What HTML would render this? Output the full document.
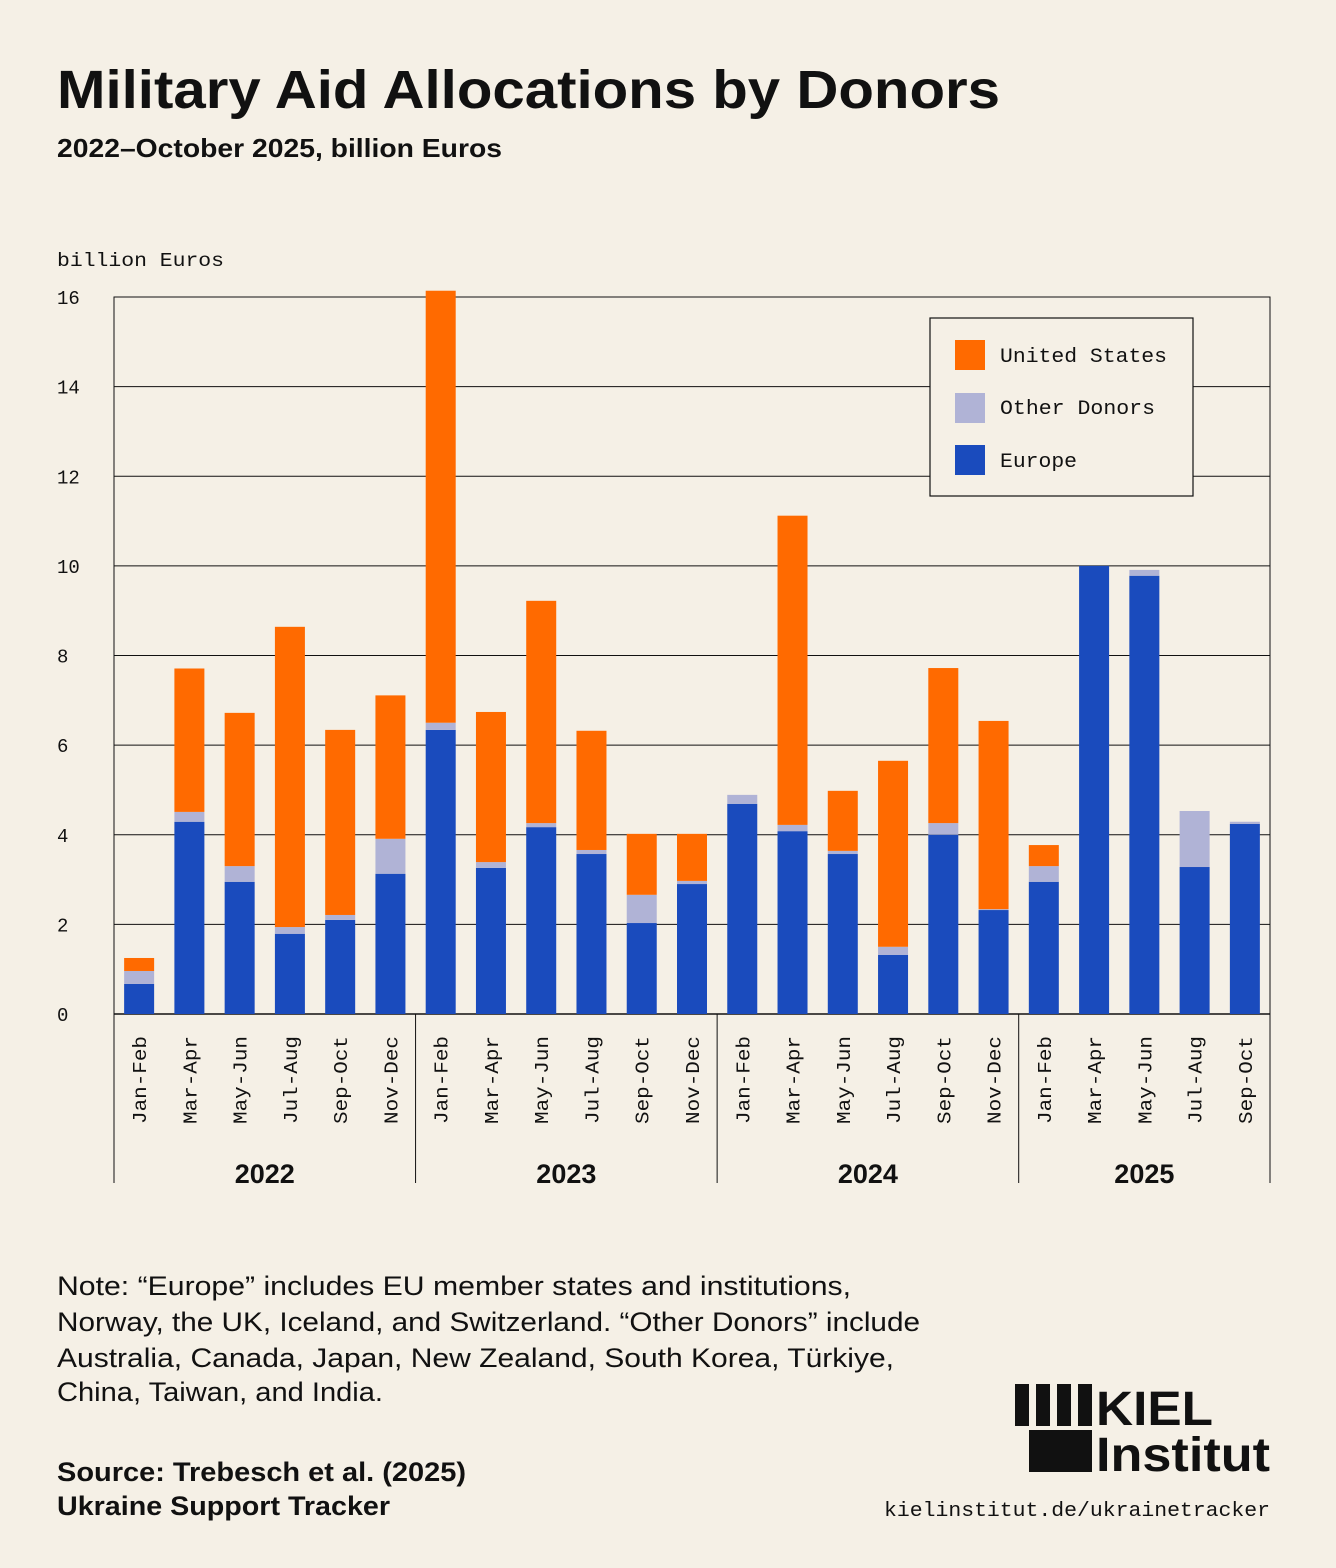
<!DOCTYPE html>
<html><head><meta charset="utf-8">
<style>
body{margin:0;background:#f5f0e6;}
#wrap{position:relative;width:1336px;height:1568px;background:#f5f0e6;overflow:hidden;font-family:"Liberation Sans",sans-serif;color:#111;}
</style></head>
<body>
<div id="wrap">
<svg id="svg" width="1336" height="1568" xmlns="http://www.w3.org/2000/svg">
<text x="57" y="108" font-size="54" font-weight="bold" font-family="Liberation Sans, sans-serif" textLength="943" lengthAdjust="spacingAndGlyphs" fill="#111">Military Aid Allocations by Donors</text>
<text x="57" y="157" font-size="26" font-weight="bold" font-family="Liberation Sans, sans-serif" textLength="445" lengthAdjust="spacingAndGlyphs" fill="#111">2022–October 2025, billion Euros</text>
<text x="57" y="266" font-size="19" font-family="Liberation Mono, monospace" textLength="167" lengthAdjust="spacingAndGlyphs" fill="#111">billion Euros</text>
<g id="grid"></g><g id="bars"></g><g id="xaxis"></g>
<g>
<rect x="930" y="318" width="263" height="178" fill="#f5f0e6" stroke="#111" stroke-width="1.2"/>
<rect x="955" y="340" width="30" height="30" fill="#ff6a00"/>
<text x="1000" y="362" font-size="20" font-family="Liberation Mono, monospace" textLength="167" lengthAdjust="spacingAndGlyphs" fill="#111">United States</text>
<rect x="955" y="393" width="30" height="30" fill="#b0b3d6"/>
<text x="1000" y="414" font-size="20" font-family="Liberation Mono, monospace" textLength="155" lengthAdjust="spacingAndGlyphs" fill="#111">Other Donors</text>
<rect x="955" y="445" width="30" height="30" fill="#1a4bbd"/>
<text x="1000" y="467" font-size="20" font-family="Liberation Mono, monospace" textLength="77" lengthAdjust="spacingAndGlyphs" fill="#111">Europe</text>
</g>
<g font-size="27" font-family="Liberation Sans, sans-serif" fill="#111">
<text x="57" y="1295" textLength="794" lengthAdjust="spacingAndGlyphs">Note: “Europe” includes EU member states and institutions,</text>
<text x="57" y="1331" textLength="863" lengthAdjust="spacingAndGlyphs">Norway, the UK, Iceland, and Switzerland. “Other Donors” include</text>
<text x="57" y="1367" textLength="837" lengthAdjust="spacingAndGlyphs">Australia, Canada, Japan, New Zealand, South Korea, Türkiye,</text>
<text x="57" y="1401" textLength="326" lengthAdjust="spacingAndGlyphs">China, Taiwan, and India.</text>
</g>
<g font-size="27" font-weight="bold" font-family="Liberation Sans, sans-serif" fill="#111">
<text x="57" y="1481" textLength="409" lengthAdjust="spacingAndGlyphs">Source: Trebesch et al. (2025)</text>
<text x="57" y="1515" textLength="333" lengthAdjust="spacingAndGlyphs">Ukraine Support Tracker</text>
</g>
<g fill="#111">
<rect x="1015" y="1384" width="14" height="42"/>
<rect x="1036" y="1384" width="14" height="42"/>
<rect x="1057" y="1384" width="14" height="42"/>
<rect x="1078" y="1384" width="14" height="42"/>
<rect x="1029" y="1430" width="63" height="42"/>
<text x="1096" y="1425" font-size="48" font-weight="bold" font-family="Liberation Sans, sans-serif" textLength="117" lengthAdjust="spacingAndGlyphs">KIEL</text>
<text x="1096" y="1471" font-size="48" font-weight="bold" font-family="Liberation Sans, sans-serif" textLength="174" lengthAdjust="spacingAndGlyphs">Institut</text>
</g>
<text x="884" y="1516" font-size="20" font-family="Liberation Mono, monospace" textLength="386" lengthAdjust="spacingAndGlyphs" fill="#111">kielinstitut.de/ukrainetracker</text>
</svg>
</div>
<script>
const categories=["Jan-Feb","Mar-Apr","May-Jun","Jul-Aug","Sep-Oct","Nov-Dec","Jan-Feb","Mar-Apr","May-Jun","Jul-Aug","Sep-Oct","Nov-Dec","Jan-Feb","Mar-Apr","May-Jun","Jul-Aug","Sep-Oct","Nov-Dec","Jan-Feb","Mar-Apr","May-Jun","Jul-Aug","Sep-Oct"];
const europe=[0.67,4.29,2.95,1.79,2.1,3.13,6.34,3.26,4.17,3.57,2.03,2.9,4.69,4.08,3.57,1.32,4.0,2.32,2.95,10.0,9.78,3.28,4.24];
const other=[0.29,0.22,0.35,0.15,0.11,0.78,0.16,0.13,0.09,0.09,0.63,0.07,0.2,0.14,0.07,0.18,0.26,0.02,0.35,0,0.13,1.25,0.05];
const us=[0.29,3.2,3.42,6.7,4.13,3.2,9.64,3.35,4.96,2.66,1.36,1.05,0,6.9,1.34,4.15,3.46,4.2,0.47,0,0,0,0];
const years=["2022","2023","2024","2025"];
const yearCounts=[6,6,6,5];
const yTicks=[0,2,4,6,8,10,12,14,16];

const NS="http://www.w3.org/2000/svg";
const X0=114,X1=1270,Y0=1014,Y1=297,YMAX=16;
const slot=(X1-X0)/categories.length,bw=30;
const y=v=>Y0-v/YMAX*(Y0-Y1);
const xc=i=>X0+slot*(i+0.5);
function mk(tag,attrs,parent){const e=document.createElementNS(NS,tag);for(const k in attrs)e.setAttribute(k,attrs[k]);parent.appendChild(e);return e;}
const grid=document.getElementById('grid'),bars=document.getElementById('bars'),xa=document.getElementById('xaxis');
yTicks.forEach(t=>{
  const l=mk('line',{x1:X0,x2:X1,y1:y(t),y2:y(t),stroke:'#111','stroke-width':t===0?1.5:1},grid);
  
  
  const tx=mk('text',{x:57,y:y(t)+7,'font-size':19,'font-family':'Liberation Mono, monospace',fill:'#111'},grid);
  tx.textContent=t;
  
  
});
const box=mk('rect',{x:X0,y:Y1,width:X1-X0,height:Y0-Y1,fill:'none',stroke:'#111','stroke-width':1},grid);


categories.forEach((c,i)=>{
  const segs=[[europe[i],'#1a4bbd','europe'],[other[i],'#b0b3d6','other'],[us[i],'#ff6a00','us']];
  let base=0;
  segs.forEach(s=>{
    if(s[0]>0){
      const r=mk('rect',{x:xc(i)-bw/2,y:y(base+s[0]),width:bw,height:y(base)-y(base+s[0]),fill:s[1]},bars);
      
      
    }
    base+=s[0];
  });
  const tx=mk('text',{x:0,y:0,'font-size':19,'font-family':'Liberation Mono, monospace',fill:'#111','text-anchor':'end',textLength:88,lengthAdjust:'spacingAndGlyphs',transform:`translate(${xc(i)+7},1036) rotate(-90)`},xa);
  tx.textContent=c;
  
  
});
let idx=0;
const sep=n=>{const l=mk('line',{x1:X0+slot*n,x2:X0+slot*n,y1:Y0,y2:1183,stroke:'#111','stroke-width':1},xa);};
sep(0);
years.forEach((yr,k)=>{
  const mid=X0+slot*(idx+yearCounts[k]/2);
  const tx=mk('text',{x:mid,y:1183,'font-size':27,'font-weight':'bold','font-family':'Liberation Sans, sans-serif','text-anchor':'middle',fill:'#111'},xa);
  tx.textContent=yr;
  
  
  idx+=yearCounts[k];sep(idx);
});
</script>
</body></html>
